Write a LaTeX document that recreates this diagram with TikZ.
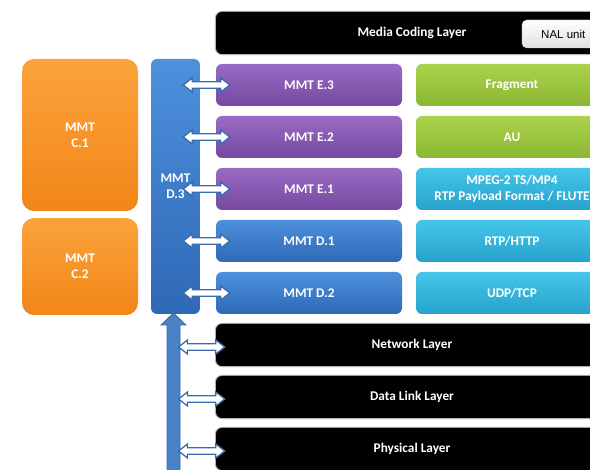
\documentclass[tikz,border=0pt]{standalone}
\usepackage{fontspec}
\setmainfont{Carlito}
\newfontfamily\arialfont{Liberation Sans}
\usetikzlibrary{calc}
\definecolor{purpT}{HTML}{9A6BC4}
\definecolor{purpB}{HTML}{7549A0}
\definecolor{grnT}{HTML}{AAD24C}
\definecolor{grnB}{HTML}{8CB733}
\definecolor{cyaT}{HTML}{45C6E8}
\definecolor{cyaB}{HTML}{26A2CC}
\definecolor{bluT}{HTML}{4E90DC}
\definecolor{bluB}{HTML}{2E69B6}
\definecolor{orgT}{HTML}{FBA33C}
\definecolor{orgB}{HTML}{F28618}
\definecolor{arrB}{HTML}{3A6BAE}
\definecolor{arrF}{HTML}{4A82C8}
\newcommand\hdblarrow[3][]{%
  \path[#1] let \p1=(#2), \p2=(#3) in
  (\x1,\y1) -- (\x1+9pt,\y1+7pt) -- (\x1+9pt,\y1+3.2pt) -- (\x2-9pt,\y1+3.2pt)
  -- (\x2-9pt,\y1+7pt) -- (\x2,\y1) -- (\x2-9pt,\y1-7pt) -- (\x2-9pt,\y1-3.2pt)
  -- (\x1+9pt,\y1-3.2pt) -- (\x1+9pt,\y1-7pt) -- cycle;}
\begin{document}
\begin{tikzpicture}[x=1pt,y=-1pt,
  box/.style={rectangle, rounded corners=6pt, text=white, align=center, inner sep=0pt,
    font=\fontsize{13.3}{15.8}\selectfont\bfseries},
  blackbox/.style={box, fill=black, minimum width=392, minimum height=42,
    preaction={draw=black!30, line width=2.2pt}},
  purpbox/.style={box, top color=purpT, bottom color=purpB, minimum width=186, minimum height=42},
  blubox/.style={box, top color=bluT, bottom color=bluB, minimum width=186, minimum height=42},
  grnbox/.style={box, top color=grnT, bottom color=grnB, minimum width=192, minimum height=42},
  cyabox/.style={box, top color=cyaT, bottom color=cyaB, minimum width=192, minimum height=42},
  orgbox/.style={box, rounded corners=12pt, top color=orgT, bottom color=orgB, minimum width=116},
  hconn/.style={fill=white, draw=arrB, line width=1.3pt, line join=miter},
  vconn/.style={fill=arrF, draw=arrB, line width=0.8pt, line join=miter}]
\useasboundingbox (0,0) rectangle (590,470);
\clip (0,0) rectangle (590,470);

% top layer
\node[blackbox] (mcl) at (412,33) {};
\node[font=\fontsize{13.3}{15.8}\selectfont\bfseries, text=white] (mcltext) at (412,33) {Media Coding Layer};
\node[rectangle, rounded corners=5pt, top color=white, bottom color=black!12, draw=black!15,
  minimum width=90, minimum height=28, inner sep=0pt] (nal) at (567,34) {};
\node[anchor=west, font=\arialfont\fontsize{11.5}{13}\selectfont, inner sep=0pt] (naltext) at (541,34.5) {NAL unit};

% MMT column boxes
\node[purpbox] (e3) at (309,85) {MMT E.3};
\node[purpbox] (e2) at (309,137) {MMT E.2};
\node[purpbox] (e1) at (309,189) {MMT E.1};
\node[blubox] (d1) at (309,241) {MMT D.1};
\node[blubox] (d2) at (309,293) {MMT D.2};

% protocol boxes
\node[grnbox] (frag) at (512,85) {Fragment};
\node[grnbox] (au) at (512,137) {AU};
\node[cyabox] (mpeg) at (512,189) {MPEG-2 TS/MP4\\RTP Payload Format / FLUTE};
\node[cyabox] (rtp) at (512,241) {RTP/HTTP};
\node[cyabox] (udp) at (512,293) {UDP/TCP};

% lower layers
\node[blackbox] (net) at (412,345) {Network Layer};
\node[blackbox] (dll) at (412,397) {Data Link Layer};
\node[blackbox] (phy) at (412,449) {Physical Layer};

% left boxes
\node[orgbox, minimum height=152] (c1) at (80,135) {MMT\\C.1};
\node[orgbox, minimum height=97] (c2) at (80,266.5) {MMT\\C.2};
\node[box, top color=bluT, bottom color=bluB, minimum width=49, minimum height=255] (d3) at (175.5,186.5) {MMT\\D.3};

% vertical double arrow
\coordinate (vtop) at (173.5,313);
\coordinate (vbot) at (173.5,484);
\path[vconn] let \p1=(vtop), \p2=(vbot) in
  (\x1,\y1) -- (\x1+12.5pt,\y1-12pt) -- (\x1+6.5pt,\y1-12pt) -- (\x1+6.5pt,\y2+12pt)
  -- (\x1+12.5pt,\y2+12pt) -- (\x1,\y2) -- (\x1-12.5pt,\y2+12pt) -- (\x1-6.5pt,\y2+12pt)
  -- (\x1-6.5pt,\y1-12pt) -- (\x1-12.5pt,\y1-12pt) -- cycle;

% horizontal double arrows D.3 <-> E/D boxes
\foreach \b in {e3,e2,e1,d1,d2}{
  \coordinate (s\b) at ($(d3.east |- \b.west)+(-17,0)$);
  \coordinate (t\b) at ($(\b.west)+(14,0)$);
  \hdblarrow[hconn]{s\b}{t\b}
}
% horizontal double arrows vertical arrow <-> layers
\foreach \b in {net,dll,phy}{
  \coordinate (s\b) at ($(vtop |- \b.west)+(5,2)$);
  \coordinate (t\b) at ($(\b.west)+(9,2)$);
  \hdblarrow[hconn]{s\b}{t\b}
}
\end{tikzpicture}
\end{document}
